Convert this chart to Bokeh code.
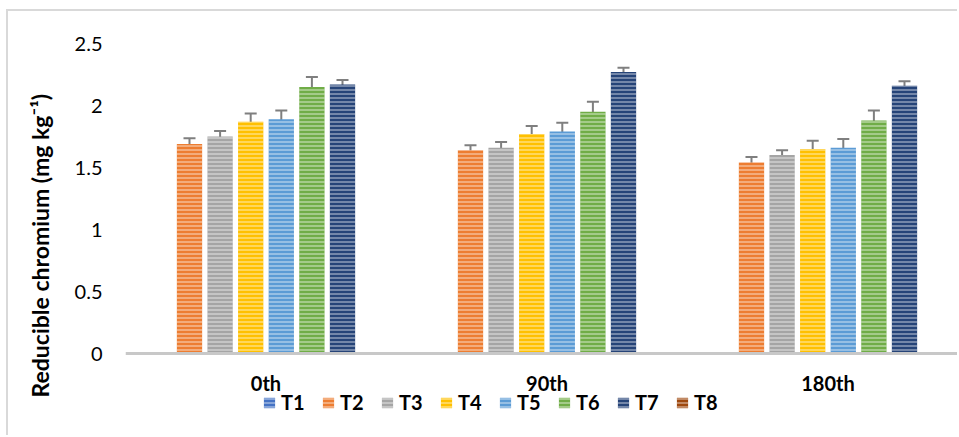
import numpy as np
from bokeh.plotting import figure
from bokeh.models import (ColumnDataSource, Range1d, FixedTicker, Whisker, TeeHead,
                          Legend, LegendItem, Title)
from bokeh.embed import file_html
from bokeh.resources import INLINE

# ---------------- data ----------------
periods = ["0th", "90th", "180th"]
series = ["T1", "T2", "T3", "T4", "T5", "T6", "T7", "T8"]
colors = ["#4472C4", "#ED7D31", "#A5A5A5", "#FFC000", "#5B9BD5", "#70AD47", "#264478", "#9E480E"]

T1 = [0.0, 0.0, 0.0]
T2 = [1.69, 1.64, 1.54]
T3 = [1.75, 1.66, 1.60]
T4 = [1.87, 1.77, 1.65]
T5 = [1.89, 1.79, 1.66]
T6 = [2.15, 1.95, 1.88]
T7 = [2.17, 2.27, 2.16]
T8 = [0.0, 0.0, 0.0]

E1 = [0.0, 0.0, 0.0]
E2 = [0.045, 0.04, 0.045]
E3 = [0.045, 0.045, 0.04]
E4 = [0.065, 0.065, 0.065]
E5 = [0.07, 0.07, 0.07]
E6 = [0.08, 0.08, 0.08]
E7 = [0.035, 0.035, 0.035]
E8 = [0.0, 0.0, 0.0]

values = [T1, T2, T3, T4, T5, T6, T7, T8]
errors = [E1, E2, E3, E4, E5, E6, E7, E8]
has_err = [False, True, True, True, True, True, True, False]

y_ticks = [0, 0.5, 1, 1.5, 2, 2.5]
y_tick_labels = ["0", "0.5", "1", "1.5", "2", "2.5"]

# ---------------- figure ----------------
W, H = 951, 426
p = figure(width=W, height=H, output_backend="svg", toolbar_location=None,
           x_range=Range1d(-0.5, 2.468), y_range=Range1d(-0.677, 2.5),
           min_border_left=117, min_border_right=0, min_border_top=32, min_border_bottom=0)
p.outline_line_color = None
p.grid.visible = False
p.background_fill_color = "white"
p.border_fill_color = "white"
p.styles = {"border-top": "2px solid #d9d9d9", "border-left": "2px solid #d9d9d9",
            "margin-left": "6px", "margin-top": "9px"}

slot = 0.1089
bar_w = 0.09
FONT = "Lato"

group_x = np.arange(len(periods))
items = []
for i, name in enumerate(series):
    xs = group_x + (i - 3.5) * slot
    vals = np.array(values[i])
    errs = np.array(errors[i])
    src = ColumnDataSource(dict(x=xs, top=vals, upper=vals + errs, lower=vals - errs))
    r = p.vbar(x="x", top="top", bottom=0, width=bar_w, source=src, fill_color=colors[i],
               line_color=None, hatch_pattern="horizontal_line", hatch_scale=4,
               hatch_weight=1.6, hatch_color="white", hatch_alpha=0.45)
    items.append(LegendItem(label=name, renderers=[r]))
    if has_err[i]:
        w = Whisker(base="x", upper="upper", lower="lower", source=src,
                    line_color="#7f7f7f", line_width=2,
                    upper_head=TeeHead(size=12, line_color="#7f7f7f", line_width=2),
                    lower_head=TeeHead(size=12, line_color="#7f7f7f", line_width=2))
        p.add_layout(w)

# y axis
p.yaxis.ticker = FixedTicker(ticks=y_ticks)
p.yaxis.major_label_overrides = {t: l for t, l in zip(y_ticks, y_tick_labels)}
p.yaxis.axis_line_color = None
p.yaxis.major_tick_line_color = None
p.yaxis.minor_tick_line_color = None
p.yaxis.major_tick_out = 0
p.yaxis.major_label_standoff = 23
p.yaxis.major_label_text_font = FONT
p.yaxis.major_label_text_font_size = "20px"
p.yaxis.major_label_text_color = "#000000"

# x axis drawn at y = 0
p.xaxis.fixed_location = 0
p.xaxis.ticker = FixedTicker(ticks=list(group_x))
p.xaxis.major_label_overrides = {int(k): v for k, v in zip(group_x, periods)}
p.xaxis.axis_line_color = "#c8c8c8"
p.xaxis.axis_line_width = 3
p.xaxis.major_tick_line_color = None
p.xaxis.minor_tick_line_color = None
p.xaxis.major_tick_out = 0
p.xaxis.major_label_standoff = 17
p.xaxis.major_label_text_font = FONT
p.xaxis.major_label_text_font_size = "20px"
p.xaxis.major_label_text_font_style = "bold"
p.xaxis.major_label_text_color = "#000000"

# axis title (in the left panel, shifted down as in the reference)
p.add_layout(Title(text="Reducible chromium (mg kg\u207b\u00b9)", align="left",
                   vertical_align="top", offset=40, standoff=32,
                   text_font=FONT, text_font_size="23px", text_font_style="bold",
                   text_color="#000000"), "left")

legend = Legend(items=items, orientation="horizontal", location=(137, 23),
                glyph_width=14, glyph_height=13, label_standoff=5, label_width=27,
                spacing=13, padding=0, margin=0,
                label_text_font=FONT, label_text_font_size="20px",
                label_text_font_style="bold", label_text_color="#000000",
                border_line_color=None, background_fill_alpha=0)
p.add_layout(legend, "center")

open("out.html", "w").write(file_html(p, INLINE))
